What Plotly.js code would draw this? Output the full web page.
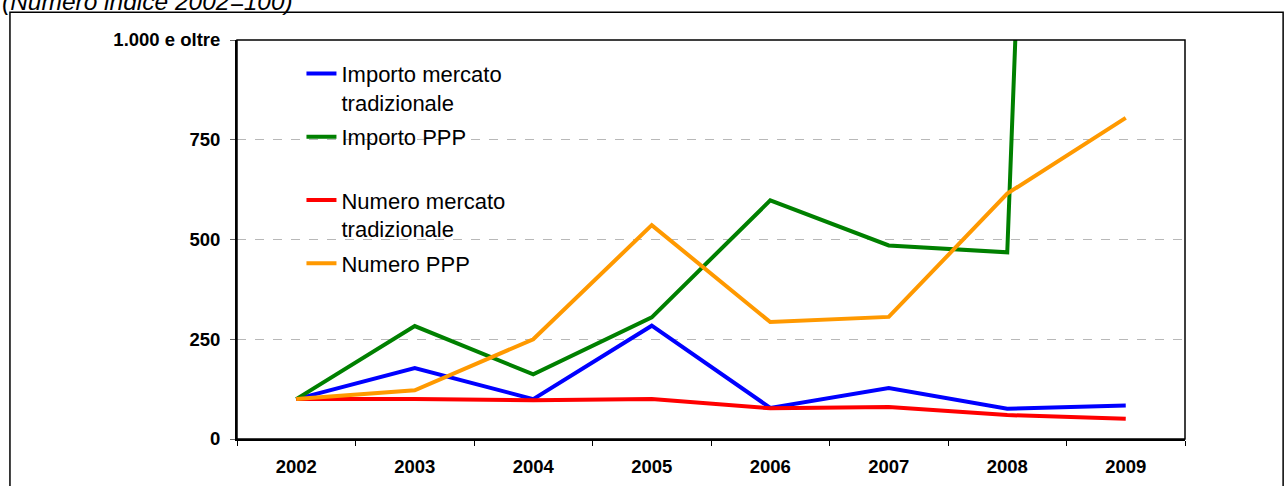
<!DOCTYPE html>
<html>
<head>
<meta charset="utf-8">
<script src="https://cdn.plot.ly/plotly-3.0.1.min.js"></script>
<style>html,body{margin:0;padding:0;background:#fff;}#chart{width:1285px;height:486px;}</style>
</head>
<body>
<div id="chart"></div>
<script>
const years = ['2002','2003','2004','2005','2006','2007','2008','2009'];
const importoTradizionale = [100, 178, 100, 284, 78, 128, 76, 84];
const importoPPP = [100, 283, 162, 305, 598, 485, 468, 8300];
const numeroTradizionale = [100, 100, 97, 100, 77, 80, 60, 51];
const numeroPPP = [100, 122, 250, 536, 293, 306, 615, 805];
const yTickVals = [0, 250, 500, 750, 1000];
const yTickText = ['0', '250', '500', '750', '1.000 e oltre'];
const seriesNames = ['Importo mercato<br>tradizionale', 'Importo PPP<br>\u00a0', 'Numero mercato<br>tradizionale', 'Numero PPP'];
const titleText = '(Numero indice 2002=100)';

const FONT = 'Arial, "Liberation Sans", sans-serif';
function tr(y, name, color, grp) {
  return {x: years, y: y, name: name, type: 'scatter', mode: 'lines', legendgroup: grp,
          line: {color: color, width: 4}, hoverinfo: 'skip'};
}
const data = [
  tr(importoTradizionale, seriesNames[0], '#0000FF', 'g1'),
  tr(importoPPP, seriesNames[1], '#008000', 'g2'),
  tr(numeroTradizionale, seriesNames[2], '#FF0000', 'g3'),
  tr(numeroPPP, seriesNames[3], '#FF9900', 'g4')
];
const layout = {
  width: 1285, height: 486,
  margin: {l: 237, r: 100, t: 40, b: 46.5, pad: 0},
  paper_bgcolor: '#fff', plot_bgcolor: '#fff',
  font: {family: FONT, color: '#000'},
  showlegend: true,
  legend: {x: 0.068, xanchor: 'left', y: 0.968, yanchor: 'top', bgcolor: 'rgba(255,255,255,0)',
           font: {family: FONT, size: 22, color: '#000'}, valign: 'top', traceorder: 'grouped',
           tracegroupgap: 3},
  xaxis: {type: 'category', range: [-0.5, 7.5], showline: true, linecolor: '#000', linewidth: 2,
          ticks: 'outside', tickson: 'boundaries', ticklen: 5, tickcolor: '#000', tickwidth: 1,
          showgrid: false, zeroline: false, fixedrange: true, ticklabelstandoff: 10,
          tickfont: {family: FONT, size: 18.5, color: '#000', weight: 'bold'}},
  yaxis: {range: [0, 1000], tickvals: yTickVals, ticktext: yTickText, showline: true, linecolor: '#000', linewidth: 2,
          ticks: 'outside', ticklen: 5, tickcolor: '#666', tickwidth: 1, zeroline: false,
          showgrid: true, gridcolor: '#b8b8b8', gridwidth: 1, griddash: 'dash', fixedrange: true,
          ticklabelstandoff: 6,
          tickfont: {family: FONT, size: 18.5, color: '#000', weight: 'bold'}},
  shapes: [
    {type: 'rect', xref: 'paper', yref: 'paper', x0: 0.002, x1: 0.325, y0: 0.37, y1: 0.96,
     fillcolor: '#fff', line: {width: 0}, layer: 'between'},
    {type: 'rect', xref: 'paper', yref: 'paper', x0: 0, x1: 1, y0: 0, y1: 1,
     line: {color: '#000', width: 1.5}, layer: 'above'},
    {type: 'rect', xref: 'paper', yref: 'paper', x0: -0.2395, x1: 1.1035, y0: -0.2, y1: 1.0695,
     line: {color: '#000', width: 1.5}, layer: 'above'}
  ],
  annotations: [
    {text: titleText, xref: 'paper', yref: 'paper', x: -0.25, xanchor: 'left', y: 1.058, yanchor: 'bottom',
     showarrow: false, font: {family: FONT, size: 24.5, color: '#000', style: 'italic'}}
  ]
};
Plotly.newPlot('chart', data, layout, {staticPlot: true});
</script>
</body>
</html>
